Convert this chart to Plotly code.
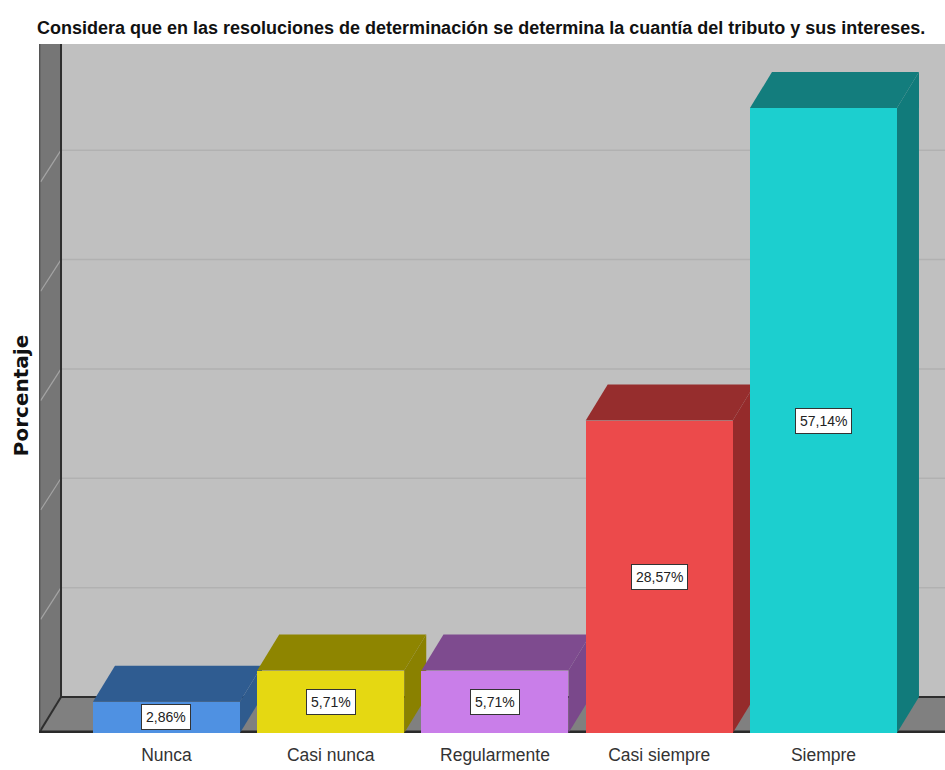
import plotly.graph_objects as go

# Survey answers and their share of respondents (%)
categories = ["Nunca", "Casi nunca", "Regularmente", "Casi siempre", "Siempre"]
percentages = [2.86, 5.71, 5.71, 28.57, 57.14]
value_labels = ["2,86%", "5,71%", "5,71%", "28,57%", "57,14%"]
grid_values = [10, 20, 30, 40, 50]

# Face colours of each 3D bar
front_colors = ["#4f91e2", "#e5d812", "#c97ee9", "#ec4a4b", "#1ccfcf"]
top_colors = ["#2f5c91", "#8e8500", "#7e4b8f", "#962d2d", "#137d7d"]
side_colors = ["#2f5b8e", "#8a8100", "#7a488b", "#952b2b", "#117b7b"]

# Axis extents and pseudo-3D depth (in data units)
X_MIN, X_MAX = -0.776, 4.74
Y_MAX = 63.0
BAR_W = 0.895
DX = 0.134    # depth shift along x
DY = 3.29     # depth shift along y

positions = list(range(len(categories)))

SANS = "Liberation Sans, Arial, sans-serif"


def poly(points):
    return "M " + " L ".join(f"{x},{y}" for x, y in points) + " Z"


shapes = []
# floor
shapes.append(dict(type="path", xref="x", yref="y", layer="below",
                   path=poly([(X_MIN, 0), (X_MAX, 0), (X_MAX, DY), (X_MIN + DX, DY)]),
                   fillcolor="#808080", line=dict(width=0)))
# left wall
shapes.append(dict(type="path", xref="x", yref="y", layer="below",
                   path=poly([(X_MIN, 0), (X_MIN + DX, DY), (X_MIN + DX, Y_MAX), (X_MIN, Y_MAX)]),
                   fillcolor="#767676", line=dict(width=0)))
# grid lines on back wall and the matching diagonals on the left wall
for g in grid_values:
    shapes.append(dict(type="line", xref="x", yref="y", layer="below",
                       x0=X_MIN + DX, x1=X_MAX, y0=g + DY, y1=g + DY,
                       line=dict(color="#b1b1b1", width=1.5)))
    shapes.append(dict(type="line", xref="x", yref="y", layer="below",
                       x0=X_MIN + DX, x1=X_MIN + 0.01, y0=g + DY, y1=g + DY * 0.12,
                       line=dict(color="#a4a4a4", width=1.2)))
# wall and floor edges
edge = dict(color="#2e2e2e", width=2)
shapes.append(dict(type="line", xref="x", yref="y", layer="below",
                   x0=X_MIN + DX, x1=X_MAX, y0=DY, y1=DY, line=edge))
shapes.append(dict(type="line", xref="x", yref="y", layer="below",
                   x0=X_MIN + DX, x1=X_MIN + DX, y0=DY, y1=Y_MAX, line=edge))
shapes.append(dict(type="line", xref="x", yref="y", layer="below",
                   x0=X_MIN, x1=X_MIN + DX, y0=0, y1=DY, line=edge))
shapes.append(dict(type="line", xref="x", yref="y", layer="below",
                   x0=X_MIN + 0.004, x1=X_MIN + 0.004, y0=0, y1=Y_MAX,
                   line=dict(color="#555555", width=1.5)))
shapes.append(dict(type="line", xref="x", yref="y", layer="below",
                   x0=X_MIN, x1=X_MAX, y0=0.1, y1=0.1,
                   line=dict(color="#2a2a2a", width=3)))

# top and side faces of the bars
for i, v in enumerate(percentages):
    xl = positions[i] - BAR_W / 2
    xr = positions[i] + BAR_W / 2
    shapes.append(dict(type="path", xref="x", yref="y", layer="below",
                       path=poly([(xl, v), (xl + DX, v + DY), (xr + DX, v + DY), (xr, v)]),
                       fillcolor=top_colors[i], line=dict(width=0)))
    shapes.append(dict(type="path", xref="x", yref="y", layer="below",
                       path=poly([(xr, 0), (xr, v), (xr + DX, v + DY), (xr + DX, DY)]),
                       fillcolor=side_colors[i], line=dict(width=0)))

fig = go.Figure()
fig.add_trace(go.Bar(
    x=positions, y=percentages, width=BAR_W,
    marker=dict(color=front_colors, line=dict(width=0)),
    hoverinfo="skip", showlegend=False,
))

annotations = []
for i, v in enumerate(percentages):
    annotations.append(dict(
        x=positions[i], y=v / 2, xref="x", yref="y", text=value_labels[i],
        showarrow=False, bgcolor="white", bordercolor="#333333", borderwidth=1,
        borderpad=4, font=dict(family=SANS, size=14, color="#222222"),
    ))

annotations.append(dict(
    text="Considera que en las resoluciones de determinación se determina la cuantía del tributo y sus intereses.",
    xref="paper", yref="paper", x=0.488, y=1.0232, xanchor="center", yanchor="middle",
    showarrow=False,
    font=dict(family=SANS, size=18, color="#111111", weight="bold"),
))
annotations.append(dict(
    text="Porcentaje", xref="paper", yref="paper", x=-0.019, y=0.49,
    xanchor="center", yanchor="middle", textangle=-90, showarrow=False,
    font=dict(family="DejaVu Sans, sans-serif", size=20, color="#111111", weight="bold"),
))

fig.update_layout(
    width=945, height=770,
    margin=dict(l=39, r=0, t=44, b=37),
    paper_bgcolor="white", plot_bgcolor="#c0c0c0",
    shapes=shapes, annotations=annotations,
    bargap=0,
    xaxis=dict(range=[X_MIN, X_MAX], tickvals=positions, ticktext=categories,
               showgrid=False, zeroline=False, showline=False, ticks="",
               ticklabelstandoff=9,
               tickfont=dict(family=SANS, size=17.5, color="#333333"),
               fixedrange=True),
    yaxis=dict(range=[0, Y_MAX], showgrid=False, zeroline=False, showline=False,
               showticklabels=False, ticks="", fixedrange=True),
)

fig.write_html("out.html")
